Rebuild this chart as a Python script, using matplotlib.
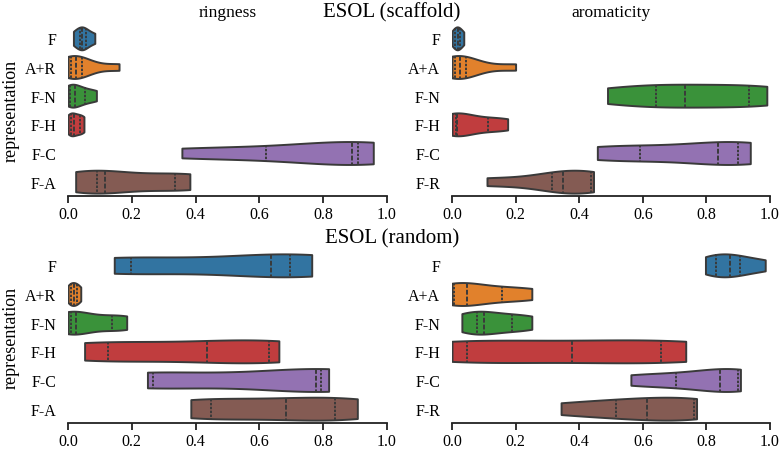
import matplotlib
matplotlib.use("Agg")
import matplotlib.pyplot as plt
import seaborn as sns
import pandas as pd

# category labels (top to bottom)
ring_labels = ["F", "A+R", "F-N", "F-H", "F-C", "F-A"]
arom_labels = ["F", "A+A", "F-N", "F-H", "F-C", "F-R"]

# values (min, q1, median, q3, max per representation)
ring_scaffold = [
    [0.017, 0.037, 0.045, 0.055, 0.084],
    [0.0, 0.008, 0.026, 0.045, 0.16],
    [0.0, 0.006, 0.021, 0.052, 0.089],
    [0.0, 0.008, 0.02, 0.038, 0.05],
    [0.357, 0.62, 0.89, 0.91, 0.957],
    [0.024, 0.09, 0.115, 0.336, 0.382],
]
arom_scaffold = [
    [0.0, 0.01, 0.018, 0.024, 0.037],
    [0.0, 0.01, 0.026, 0.044, 0.2],
    [0.489, 0.642, 0.734, 0.933, 0.99],
    [0.0, 0.014, 0.016, 0.112, 0.175],
    [0.457, 0.59, 0.838, 0.9, 0.938],
    [0.11, 0.314, 0.348, 0.436, 0.445],
]
ring_random = [
    [0.145, 0.197, 0.636, 0.697, 0.764],
    [0.0, 0.008, 0.019, 0.027, 0.04],
    [0.0, 0.008, 0.024, 0.139, 0.184],
    [0.052, 0.124, 0.435, 0.631, 0.661],
    [0.249, 0.268, 0.777, 0.794, 0.817],
    [0.385, 0.448, 0.684, 0.836, 0.907],
]
arom_random = [
    [0.797, 0.829, 0.875, 0.907, 0.985],
    [0.0, 0.007, 0.047, 0.157, 0.251],
    [0.031, 0.079, 0.102, 0.188, 0.251],
    [0.0, 0.047, 0.377, 0.656, 0.735],
    [0.5625, 0.704, 0.844, 0.9, 0.907],
    [0.343, 0.517, 0.6125, 0.76, 0.769],
]

plt.rcParams['font.family'] = ['Liberation Serif', 'DejaVu Serif']
plt.rcParams['font.size'] = 11.5

W, H = 784, 452
fig = plt.figure(figsize=(W / 100, H / 100), dpi=100)


def make_df(labels, values):
    rows = []
    for lab, vals in zip(labels, values):
        for v in vals:
            rows.append((lab, v))
    return pd.DataFrame(rows, columns=["representation", "value"])


def add_panel(rect, labels, values):
    ax = fig.add_axes(rect)
    df = make_df(labels, values)
    sns.violinplot(data=df, x="value", y="representation", hue="representation",
                   order=labels, hue_order=labels, orient="h", inner="quart",
                   cut=0, density_norm="width", linewidth=1.4, linecolor="#3a3a3a",
                   inner_kws=dict(linewidth=1.4), legend=False, ax=ax)
    ax.set_xlim(0, 1)
    ax.set_xticks([0.0, 0.2, 0.4, 0.6, 0.8, 1.0])
    ax.set_xlabel("")
    ax.set_ylabel("")
    for s in ["top", "right", "left"]:
        ax.spines[s].set_visible(False)
    ax.spines["bottom"].set_linewidth(1.3)
    ax.spines["bottom"].set_color("#222222")
    ax.tick_params(axis="y", left=False, pad=5)
    ax.tick_params(axis="x", direction="out", length=5, width=1.3, color="#222222", pad=2.5)
    return ax


def px_rect(x0, x1, y0, y1):
    return [x0 / W, 1 - y1 / H, (x1 - x0) / W, (y1 - y0) / H]


add_panel(px_rect(68, 387, 25, 197), ring_labels, ring_scaffold)
add_panel(px_rect(452, 770, 25, 197), arom_labels, arom_scaffold)
add_panel(px_rect(68, 387, 252, 424), ring_labels, ring_random)
add_panel(px_rect(452, 770, 252, 424), arom_labels, arom_random)

fig.text(392 / W, 1 - 13 / H, "ESOL (scaffold)", ha="center", va="center", fontsize=15)
fig.text(392 / W, 1 - 239 / H, "ESOL (random)", ha="center", va="center", fontsize=15)
fig.text(228 / W, 1 - 13 / H, "ringness", ha="center", va="center", fontsize=12.5)
fig.text(611 / W, 1 - 13 / H, "aromaticity", ha="center", va="center", fontsize=12.5)
fig.text(11 / W, 1 - 111 / H, "representation", ha="center", va="center", rotation=90, fontsize=13)
fig.text(11 / W, 1 - 338 / H, "representation", ha="center", va="center", rotation=90, fontsize=13)

fig.savefig("out.png", dpi=100)
